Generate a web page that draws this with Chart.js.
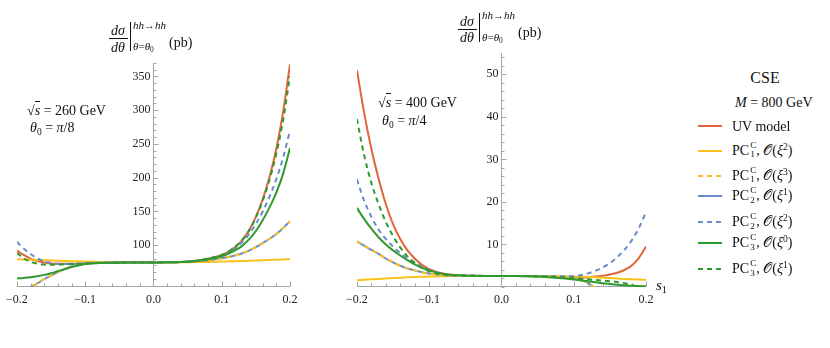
<!DOCTYPE html>
<html><head><meta charset="utf-8">
<script src="https://cdn.jsdelivr.net/npm/chart.js@4.4.1/dist/chart.umd.min.js"></script>
<style>
html,body{margin:0;padding:0;background:#fff;}
#wrap{position:relative;width:830px;height:348px;overflow:hidden;font-family:'Liberation Serif','DejaVu Serif',serif;color:#111;}
canvas{position:absolute;top:0;}
.t{position:absolute;white-space:nowrap;line-height:1;}
.ss{display:inline-flex;flex-direction:column;vertical-align:middle;font-size:0.66em;line-height:1.05;margin-left:1px;position:relative;top:-0.1em;}
sup{font-size:0.68em;vertical-align:0.5em;line-height:0;}
sub{font-size:0.68em;vertical-align:-0.3em;line-height:0;}
.ovl{border-top:1px solid #111;padding-top:1px;}
.hl{position:absolute;background:#111;}
</style></head><body>
<div id="wrap">
<canvas id="c1" width="340" height="348" style="left:0px"></canvas>
<canvas id="c2" width="340" height="348" style="left:340px"></canvas>
</div>
<script>
// ---- data ----
const S = [-0.2,-0.19,-0.18,-0.17,-0.16,-0.15,-0.14,-0.13,-0.12,-0.11,-0.1,-0.08,-0.06,-0.04,-0.02,0,0.02,0.04,0.06,0.08,0.1,0.11,0.12,0.13,0.14,0.15,0.16,0.17,0.18,0.19,0.2];
const X_TICKS = [-0.2,-0.1,0,0.1,0.2];
const L_YTICKS = [100,150,200,250,300,350];
const R_YTICKS = [10,20,30,40,50];

// left panel: sqrt(s)=260 GeV, theta0=pi/8
const L_UV    = [92,85.5,80,76.5,74.2,73,72.5,72.3,72.4,72.7,73,73.6,74,74.2,74.3,74.4,74.5,75,76.5,80,85.5,90.5,97.5,107.5,122,142,168,201,243,298,368];
const L_PC1x2 = [79.3,78.9,78.5,78.1,77.7,77.3,76.9,76.6,76.3,76,75.7,75.2,74.9,74.6,74.45,74.4,74.45,74.6,74.9,75.2,75.7,76,76.3,76.6,76.9,77.3,77.7,78.1,78.5,78.9,79.3];
const L_PC1x3 = [28,33,38,43.5,49.5,55,60,64.5,68.3,71,72.8,74,74.3,74.3,74.35,74.4,74.5,75,76,77.8,80.5,82.5,85,88,92,97,103,109.5,116.5,125.5,135.5];
const L_PC2x1 = [28,33,38,43.5,49.5,55,60,64.5,68.3,71,72.8,74,74.3,74.3,74.35,74.4,74.5,75,76,77.8,80.5,82.5,85,88,92,97,103,109.5,116.5,125.5,135.5];
const L_PC2x2 = [105,95,87,80.5,76,73.5,72.3,72,72.2,72.5,73,73.6,74,74.2,74.3,74.4,74.5,75,76.3,79.5,84,89,95.5,104.5,116.5,131.5,150,172,198,230,270];
const L_PC3x0 = [50.7,51.5,52.5,54,56,58.5,61.5,64.5,67.5,70,72,73.5,74,74.2,74.3,74.4,74.5,75,76.3,79,83.5,87.5,92.5,99,108.5,121,137,156,178,206,244];
const L_PC3x1 = [88.5,80.5,75.5,72.5,71.3,71,71.2,71.6,72,72.4,72.8,73.5,74,74.2,74.3,74.4,74.5,75,76.5,80,85.5,90.5,97.5,107.5,121.5,141,166,197,236,286,351];

// right panel: sqrt(s)=400 GeV, theta0=pi/4
const R_UV    = [51,41,32.5,25.5,19.5,14.8,11.3,8.6,6.7,5.2,4.2,3.1,2.75,2.65,2.6,2.6,2.6,2.55,2.5,2.4,2.25,2.25,2.3,2.45,2.65,2.95,3.35,4.0,5.0,6.8,9.5];
const R_PC1x2 = [1.6,1.7,1.8,1.9,2.0,2.1,2.2,2.28,2.35,2.4,2.45,2.52,2.56,2.58,2.6,2.6,2.6,2.58,2.56,2.52,2.45,2.4,2.35,2.28,2.2,2.1,2.0,1.9,1.82,1.75,1.7];
const R_PC1x3 = [10.7,9.7,8.7,7.8,6.7,5.8,5.0,4.35,3.9,3.45,3.15,2.8,2.65,2.6,2.6,2.6,2.6,2.55,2.45,2.3,2.1,1.7,0.9,-0.3,-1.8,-3.5,-5.5,-8,-10.5,-13.5,-17];
const R_PC2x1 = [10.7,9.7,8.7,7.8,6.7,5.8,5.0,4.35,3.9,3.45,3.15,2.8,2.65,2.6,2.6,2.6,2.6,2.55,2.45,2.3,2.1,1.7,0.9,-0.3,-1.8,-3.5,-5.5,-8,-10.5,-13.5,-17];
const R_PC2x2 = [25.3,20.3,16.5,13.5,11.3,9.5,8,6.7,5.6,4.7,4.0,3.1,2.75,2.65,2.6,2.6,2.6,2.6,2.55,2.5,2.55,2.8,3.2,3.8,4.6,5.6,7.0,8.7,10.9,13.8,17.6];
const R_PC3x0 = [18.6,16,13.7,11.7,10,8.6,7.4,6.3,5.3,4.5,3.9,3.05,2.75,2.65,2.6,2.6,2.6,2.5,2.35,2.1,1.75,1.55,1.35,1.1,0.9,0.7,0.55,0.4,0.3,0.22,0.18];
const R_PC3x1 = [39.5,31,24.5,19.5,15.3,12,9.3,7.2,5.7,4.5,3.7,2.9,2.7,2.65,2.6,2.6,2.6,2.55,2.45,2.3,2.1,1.95,1.8,1.65,1.5,1.35,1.2,0.9,0.5,0.0,-0.7];

// ---- styles ----
const RED='#E2643C', YEL='#F9C21B', BLU='#6A8BCB', GRN='#2E9A2E', AXC='#A6A6A6';
const DASH=[5,4];
const STYLE = [
  {c:RED, d:[], o:7}, {c:YEL, d:[], o:6}, {c:YEL, d:DASH, o:4},
  {c:BLU, d:[], o:5}, {c:BLU, d:DASH, o:3}, {c:GRN, d:[], o:2}, {c:GRN, d:DASH, o:1}
];
const NAMES = ['UV model','PC1 O(xi^2)','PC1 O(xi^3)','PC2 O(xi^1)','PC2 O(xi^2)','PC3 O(xi^0)','PC3 O(xi^1)'];

const mmaAxes = {
  id:'mmaAxes',
  beforeDatasetsDraw(chart, args, o){
    const {ctx, chartArea:a, scales:{x:xs, y:ys}} = chart;
    ctx.save(); ctx.strokeStyle = AXC; ctx.lineWidth = 1;
    const px = Math.round(xs.getPixelForValue(0)) + 0.5;
    const py = Math.round(ys.getPixelForValue(ys.min)) - 0.5;
    ctx.beginPath();
    ctx.moveTo(px, a.top); ctx.lineTo(px, py);
    ctx.moveTo(a.left, py); ctx.lineTo(a.right, py);
    for (let k = Math.ceil(ys.min/o.yMinor - 1e-9); k*o.yMinor <= ys.max + 1e-9; k++){
      const v = k*o.yMinor;
      const major = o.yMajor.some(m => Math.abs(m - v) < 1e-9);
      const p = Math.round(ys.getPixelForValue(v)) + 0.5;
      ctx.moveTo(px, p); ctx.lineTo(px + (major ? 5 : 3), p);
    }
    for (let k = Math.round(xs.min/o.xMinor); k*o.xMinor <= xs.max + 1e-9; k++){
      const v = k*o.xMinor;
      const major = X_TICKS.some(m => Math.abs(m - v) < 1e-9);
      const p = Math.round(xs.getPixelForValue(v)) + 0.5;
      ctx.moveTo(p, py); ctx.lineTo(p, py - (major ? 5 : 3));
    }
    ctx.stroke(); ctx.restore();
  }
};

const fmtX = v => (v < -1e-9 ? '\u2212' : '') + Math.abs(v).toFixed(1);
Chart.defaults.font.family = "'Liberation Serif','DejaVu Serif',serif";
Chart.defaults.font.size = 12;

function makeChart(id, series, yMin, yMax, yTicks, yMinor, pad){
  const datasets = series.map((arr,i) => ({
    label: NAMES[i],
    data: S.map((s,j) => ({x:s, y:arr[j]})),
    borderColor: STYLE[i].c, borderDash: STYLE[i].d, order: STYLE[i].o,
    borderWidth: 2, pointRadius: 0, fill: false,
    cubicInterpolationMode: 'monotone', borderCapStyle: 'butt'
  }));
  return new Chart(document.getElementById(id), {
    type:'line',
    data:{datasets},
    plugins:[mmaAxes],
    options:{
      responsive:false, animation:false, devicePixelRatio:1,
      layout:{padding:pad},
      plugins:{legend:{display:false}, tooltip:{enabled:false}, mmaAxes:{yMajor:yTicks, yMinor:yMinor, xMinor:0.02}},
      scales:{
        x:{type:'linear', min:-0.2, max:0.2, position:{y:yMin},
           grid:{display:false, drawTicks:false}, border:{display:false},
           afterBuildTicks: ax => { ax.ticks = X_TICKS.map(v => ({value:v})); },
           ticks:{padding:6, color:'#222', maxRotation:0, autoSkip:false, callback: fmtX}},
        y:{type:'linear', min:yMin, max:yMax, position:{x:0},
           grid:{display:false, drawTicks:false}, border:{display:false},
           afterBuildTicks: ax => { ax.ticks = yTicks.map(v => ({value:v})); },
           ticks:{padding:4, color:'#222', autoSkip:false, callback: v => String(v) + '\u2005'}}
      }
    }
  });
}

makeChart('c1', [L_UV,L_PC1x2,L_PC1x3,L_PC2x1,L_PC2x2,L_PC3x0,L_PC3x1], 38, 370, L_YTICKS, 10,
  {left:13, right:50, top:63, bottom:61});
makeChart('c2', [R_UV,R_PC1x2,R_PC1x3,R_PC2x1,R_PC2x2,R_PC3x0,R_PC3x1], 0, 55, R_YTICKS, 2,
  {left:15, right:34, top:53, bottom:61});

// ---- text ----
const wrap = document.getElementById('wrap');
function txt(html, x, y, size, center){
  const d = document.createElement('div');
  d.className = 't'; d.innerHTML = html;
  d.style.left = x + 'px'; d.style.top = y + 'px'; d.style.fontSize = size + 'px';
  d.style.transform = center ? 'translate(-50%,-50%)' : 'translate(0,-50%)';
  wrap.appendChild(d); return d;
}
function hline(x, y, w, h){
  const d = document.createElement('div'); d.className = 'hl';
  d.style.left = x+'px'; d.style.top = y+'px'; d.style.width = w+'px'; d.style.height = h+'px';
  wrap.appendChild(d);
}
function yTitle(ox, oy){
  txt('<i>dσ</i>', ox+118, oy+31, 14, true);
  hline(ox+109, oy+38, 19, 1);
  txt('<i>dθ</i>', ox+118, oy+47.5, 14, true);
  hline(ox+130, oy+22, 1, 29);
  txt('<i>hh</i>→<i>hh</i>', ox+133, oy+24.5, 11, false);
  txt('<i>θ</i>=<i>θ</i><sub>0</sub>', ox+133, oy+46, 11, false);
  txt('(pb)', ox+169, oy+42.5, 14, false);
}
yTitle(0, 0);
yTitle(349, -9.5);

txt('√<span class="ovl"><i>s</i></span> = 260 GeV', 27, 111, 14, false);
txt('<i>θ</i><sub>0</sub> = <i>π</i>/8', 30, 128, 14, false);
txt('√<span class="ovl"><i>s</i></span> = 400 GeV', 378, 102.5, 14, false);
txt('<i>θ</i><sub>0</sub> = <i>π</i>/4', 382, 121, 14, false);
txt('<i>s</i><sub>1</sub>', 656, 285, 15, false);

// ---- legend ----
txt('CSE', 765, 78, 16, true);
txt('<i>M</i> = 800 GeV', 735, 103, 14, false);
const LEG = [
  {y:125.5, html:'UV model'},
  {y:150.5, html:'PC<span class="ss"><span>C</span><span>1</span></span>, <span>𝒪</span>(<i>ξ</i><sup>2</sup>)'},
  {y:175.5, html:'PC<span class="ss"><span>C</span><span>1</span></span>, <span>𝒪</span>(<i>ξ</i><sup>3</sup>)'},
  {y:196,   html:'PC<span class="ss"><span>C</span><span>2</span></span>, <span>𝒪</span>(<i>ξ</i><sup>1</sup>)'},
  {y:222,   html:'PC<span class="ss"><span>C</span><span>2</span></span>, <span>𝒪</span>(<i>ξ</i><sup>2</sup>)'},
  {y:243,   html:'PC<span class="ss"><span>C</span><span>3</span></span>, <span>𝒪</span>(<i>ξ</i><sup>0</sup>)'},
  {y:269,   html:'PC<span class="ss"><span>C</span><span>3</span></span>, <span>𝒪</span>(<i>ξ</i><sup>1</sup>)'}
];
const NS = 'http://www.w3.org/2000/svg';
LEG.forEach((r,i) => {
  const svg = document.createElementNS(NS,'svg');
  svg.setAttribute('width','26'); svg.setAttribute('height','6');
  svg.style.position='absolute'; svg.style.left='697px'; svg.style.top=(r.y-3)+'px';
  const ln = document.createElementNS(NS,'line');
  ln.setAttribute('x1','1'); ln.setAttribute('x2','25'); ln.setAttribute('y1','3'); ln.setAttribute('y2','3');
  ln.setAttribute('stroke', STYLE[i].c); ln.setAttribute('stroke-width','2');
  if (STYLE[i].d.length) ln.setAttribute('stroke-dasharray', STYLE[i].d.join(' '));
  svg.appendChild(ln); wrap.appendChild(svg);
  txt(r.html, 732, r.y + 1, 14, false);
});
</script>
</body></html>
